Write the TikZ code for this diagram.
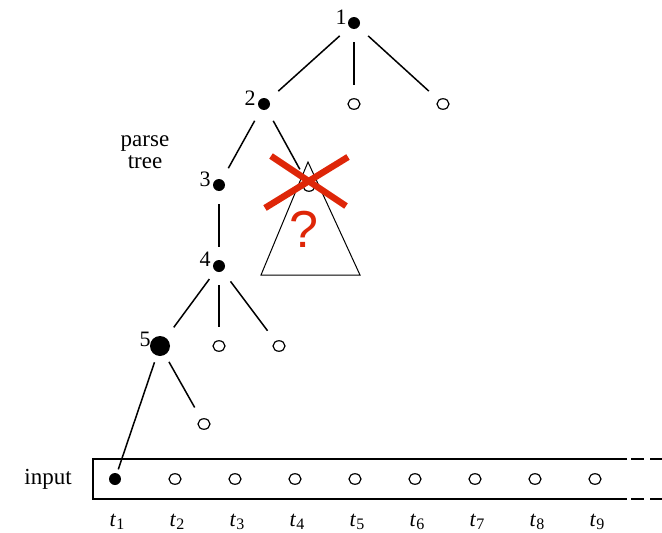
\documentclass[tikz,border=0pt]{standalone}
\usepackage{fontspec}
\usetikzlibrary{shapes.geometric}
\setmainfont{Liberation Serif}
\newfontfamily\qfont{Liberation Sans}
\definecolor{crossred}{RGB}{222,38,8}
\newcommand{\tlab}[1]{\textit{t}\raisebox{-0.35ex}{\fontsize{16}{16}\selectfont #1}}
\begin{document}
\begin{tikzpicture}[x=1pt,y=-1pt,
  fdot/.style={circle,fill=black,inner sep=0pt,minimum size=12pt},
  bigdot/.style={circle,fill=black,inner sep=0pt,minimum size=20pt},
  odot/.style={ellipse,draw=black,line width=1.2pt,fill=white,inner sep=0pt,minimum width=12pt,minimum height=10.5pt},
  num/.style={inner sep=0pt,font=\fontsize{22}{25}\selectfont},
  txt/.style={inner sep=0pt,font=\fontsize{23}{25}\selectfont,align=center},
  edge/.style={line width=1.5pt,shorten <=13pt,shorten >=13pt},
  tri/.style={line width=1pt},
  xline/.style={line width=6.5pt,crossred}]
\useasboundingbox (0,0) rectangle (662,533);
% tree nodes
\node[fdot] (n1) at (354,23) {};
\node[num] (l1) at (341,17) {1};
\node[fdot] (n2) at (264,104) {};
\node[num] (l2) at (250,98) {2};
\node[odot] (c12) at (354,104) {};
\node[odot] (c13) at (443,104) {};
\node[fdot] (n3) at (219,185) {};
\node[num] (l3) at (205,179) {3};
\node[odot] (h) at (309,186) {};
\node[fdot] (n4) at (219,266) {};
\node[num] (l4) at (205,259) {4};
\node[bigdot] (n5) at (160,346) {};
\node[num] (l5) at (145,339) {5};
\node[odot] (c42) at (219,346) {};
\node[odot] (c43) at (279,346) {};
\node[odot] (c52) at (204,424) {};
\node[txt] (pt) at (145,152) {parse\\[-3pt]tree};
% edges
\draw[edge] (n1) -- (n2);
\draw[edge] (n1) -- (c12);
\draw[edge] (n1) -- (c13);
\draw[edge] (n2) -- (n3);
\draw[edge] (n2) -- (h);
\draw[edge] (n3) -- (n4);
\draw[edge,shorten <=10pt] (n4) -- (n5);
\draw[edge] (n4) -- (c42);
\draw[edge] (n4) -- (c43);
\draw[edge,shorten <=8pt] (n5) -- (c52);
% triangle and cross
\coordinate (ta) at (308,162);
\coordinate (tl) at (261,275);
\coordinate (tr) at (360,275);
\draw[tri] (ta) -- (tl) -- (tr) -- cycle;
\coordinate (xa1) at (271,156);
\coordinate (xa2) at (346,206);
\coordinate (xb1) at (265,208);
\coordinate (xb2) at (348,157);
\draw[xline] (xa1) -- (xa2);
\draw[xline] (xb1) -- (xb2);
\node[inner sep=0pt,text=crossred,font=\qfont\fontsize{52}{56}\selectfont] (q) at (304,229) {?};
% input box
\coordinate (bl1) at (627,459);
\coordinate (bl2) at (93,459);
\coordinate (bl3) at (93,499);
\coordinate (bl4) at (627,499);
\draw[line width=1.5pt] (bl1) -- (bl2) -- (bl3) -- (bl4);
\coordinate (d1) at (631,459);
\coordinate (d2) at (662,459);
\coordinate (d3) at (631,499);
\coordinate (d4) at (662,499);
\draw[line width=1.5pt,dash pattern=on 13pt off 6pt] (d1) -- (d2);
\draw[line width=1.5pt,dash pattern=on 13pt off 6pt] (d3) -- (d4);
\node[txt] (inp) at (48,479) {input};
\node[fdot] (t1) at (115,479) {};
\foreach \i/\x in {2/175,3/235,4/295,5/355,6/415,7/475,8/535,9/595}{
  \node[odot] (t\i) at (\x,479) {};
}
\foreach \i/\x in {1/117,2/177,3/237,4/297,5/357,6/417,7/477,8/537,9/597}{
  \node[num] (lt\i) at (\x,522) {\tlab{\i}};
}
\draw[line width=1.5pt,shorten <=7pt,shorten >=4pt] (n5) -- (t1);
\end{tikzpicture}
\end{document}
